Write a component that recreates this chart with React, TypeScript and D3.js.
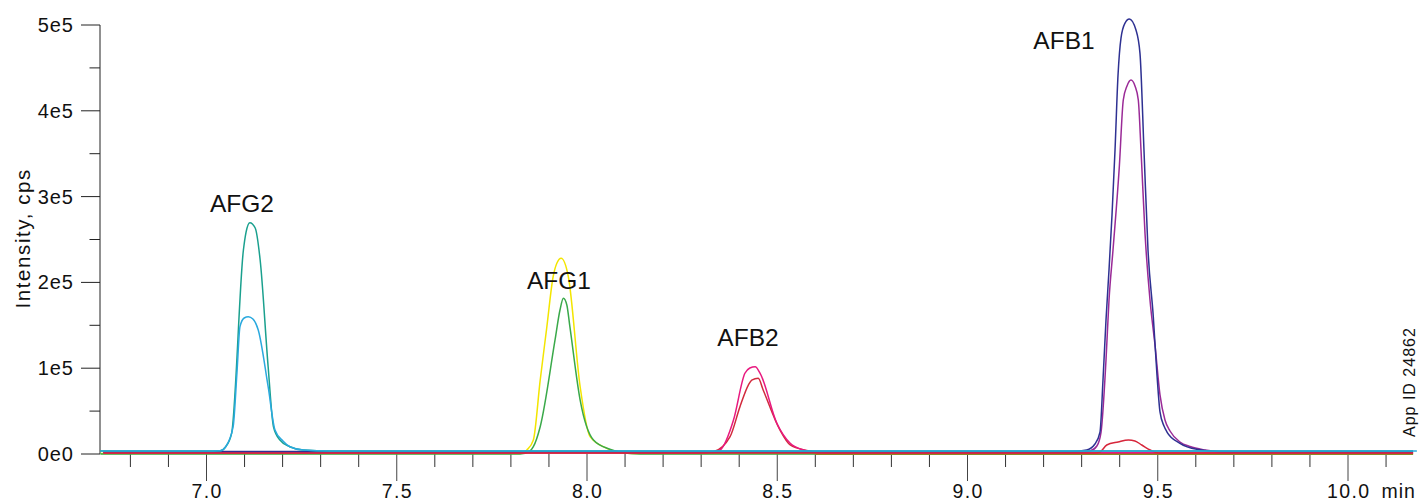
import React from "react";
import * as d3 from "d3";

// ---- Data (time in min, intensity in cps) ----
const afg2Teal: [number, number][] = [
  [6.721, 3500], [7.0, 3500], [7.036, 3800], [7.05, 8200], [7.066, 24100], [7.097, 237800],
  [7.104, 258700], [7.114, 269600], [7.128, 263400], [7.141, 226100], [7.162, 101700],
  [7.176, 31800], [7.193, 16300], [7.219, 8500], [7.254, 4700], [7.325, 3500], [10.171, 3500],
];
const afg2Blue: [number, number][] = [
  [6.721, 3500], [7.0, 3500], [7.036, 3800], [7.05, 8200], [7.07, 31800], [7.08, 94400],
  [7.088, 148400], [7.099, 158500], [7.11, 160000], [7.122, 157300], [7.136, 144500],
  [7.162, 78400], [7.18, 28000], [7.201, 15200], [7.219, 8500], [7.254, 4700], [7.325, 3500],
  [10.181, 3500],
];
const afg1Yellow: [number, number][] = [
  [6.722, 600], [7.824, 600], [7.842, 4700], [7.859, 16300], [7.877, 86200], [7.894, 146500],
  [7.911, 206600], [7.921, 222600], [7.932, 228100], [7.951, 206600], [7.982, 78400],
  [8.008, 20200], [8.052, 6600], [8.1, 1200], [8.139, 600], [10.171, 600],
];
const afg1Green: [number, number][] = [
  [6.721, 0], [7.824, 0], [7.85, 3500], [7.859, 8500], [7.877, 31800], [7.916, 132900],
  [7.929, 167800], [7.938, 181500], [7.947, 173700], [7.955, 148400], [7.982, 62900],
  [8.017, 16300], [8.06, 5500], [8.113, 600], [8.166, 0], [10.171, 0],
];
const afb2Crimson: [number, number][] = [
  [6.729, 1200], [8.297, 1200], [8.332, 2700], [8.376, 20200], [8.402, 55100], [8.424, 80400],
  [8.433, 86200], [8.45, 88200], [8.463, 74600], [8.507, 28000], [8.534, 10500],
  [8.577, 4100], [8.626, 1200], [10.171, 1200],
];
const afb2Magenta: [number, number][] = [
  [6.729, 1700], [8.329, 1700], [8.35, 4700], [8.385, 39600], [8.415, 94100], [8.428, 100200],
  [8.442, 101700], [8.455, 94100], [8.499, 35800], [8.534, 12500], [8.569, 4700],
  [8.612, 1700], [10.171, 1700],
];
const afb1Purple: [number, number][] = [
  [6.729, 2000], [9.296, 2000], [9.322, 3500], [9.34, 9300], [9.351, 25600], [9.364, 109600],
  [9.3719, 179500], [9.3824, 237800], [9.399, 334800], [9.4094, 412600], [9.4192, 428900],
  [9.4297, 435900], [9.4402, 428900], [9.4489, 412600], [9.456, 354300], [9.4665, 257200],
  [9.4796, 179500], [9.4928, 127000], [9.5059, 68800], [9.519, 39600], [9.5322, 26800],
  [9.5584, 14000], [9.5847, 8700], [9.6242, 4700], [9.6899, 2000], [10.171, 2000],
];
const afb1Navy: [number, number][] = [
  [6.729, 2900], [9.269, 2900], [9.313, 4700], [9.335, 11700], [9.3482, 25600], [9.3561, 86200],
  [9.364, 156200], [9.3719, 214500], [9.3798, 278600], [9.3877, 354300], [9.3956, 441700],
  [9.4034, 484800], [9.414, 502300], [9.4252, 507000], [9.4428, 494200], [9.4533, 467000],
  [9.4638, 354300], [9.4744, 237800], [9.4883, 160000], [9.498, 92100], [9.5059, 49000],
  [9.5164, 32600], [9.5243, 25600], [9.5584, 12500], [9.6024, 5500], [9.6636, 2900], [10.171, 2900],
];
const afb1Red: [number, number][] = [
  [6.729, 1200], [9.335, 1200], [9.348, 2300], [9.366, 10500], [9.396, 14000], [9.423, 16300],
  [9.44, 15200], [9.458, 10500], [9.48, 4700], [9.502, 1200], [10.171, 1200],
];
const oliveTrace: [number, number][] = [
  [8.6, -300], [10.171, -300],
];

const traceColors = ["#f3e500", "#3aa94a", "#8c8a25", "#d22a3d", "#e8197f", "#9a2a97", "#2e3192", "#d7263b", "#1aa08e", "#2aa9de"];
const traces = [afg1Yellow, afg1Green, oliveTrace, afb2Crimson, afb2Magenta, afb1Purple, afb1Navy, afb1Red, afg2Teal, afg2Blue];

const peakNames = ["AFG2", "AFG1", "AFB2", "AFB1"];
const peakLabelTime = [7.0933, 7.9264, 8.4231, 9.2536];
const peakLabelIntensity = [282000, 192300, 125900, 471700];

const xMajorTicks = [7.0, 7.5, 8.0, 8.5, 9.0, 9.5, 10.0];
const xMajorLabels = ["7.0", "7.5", "8.0", "8.5", "9.0", "9.5", "10.0"];
const yMajorTicks = [0, 1e5, 2e5, 3e5, 4e5, 5e5];
const yMajorLabels = ["0e0", "1e5", "2e5", "3e5", "4e5", "5e5"];
const yMinorTicks = [5e4, 1.5e5, 2.5e5, 3.5e5, 4.5e5];

const FONT = "'Liberation Sans', Arial, Helvetica, sans-serif";

export default function App() {
  const x = d3.scaleLinear().domain([7, 10]).range([206.5, 1348]);
  const y = d3.scaleLinear().domain([0, 5e5]).range([454, 25]);
  const line = d3
    .line<[number, number]>()
    .x((d) => x(d[0]))
    .y((d) => y(d[1]))
    .curve(d3.curveMonotoneX);
  const xMinorTicks = d3.range(68, 102).map((i) => i / 10).filter((t) => !xMajorTicks.some((m) => Math.abs(m - t) < 1e-6));

  return (
    <svg width={1420} height={500} style={{ position: "absolute", left: 0, top: 0, background: "#fff" }} fontFamily={FONT}>
      <rect x={0} y={0} width={1420} height={500} fill="#fff" />
      {/* y axis */}
      <line x1={100} x2={100} y1={y(5e5)} y2={y(0)} stroke="#222" strokeWidth={1} />
      {yMajorTicks.map((v, i) => (
        <g key={"ym" + i}>
          <line x1={81} x2={100} y1={y(v)} y2={y(v)} stroke="#222" strokeWidth={1} />
          <text x={73 + 1} y={y(v) + 7} fontSize={20} letterSpacing={1} textAnchor="end" fill="#111">
            {yMajorLabels[i]}
          </text>
        </g>
      ))}
      {yMinorTicks.map((v, i) => (
        <line key={"yn" + i} x1={89.5} x2={100} y1={y(v)} y2={y(v)} stroke="#222" strokeWidth={1} />
      ))}
      <text transform="translate(30,238.3) rotate(-90)" fontSize={20.5} letterSpacing={1.6} textAnchor="middle" fill="#111">
        Intensity, cps
      </text>
      {/* x ticks */}
      {xMinorTicks.map((t, i) => (
        <line key={"xn" + i} x1={x(t)} x2={x(t)} y1={454} y2={467} stroke="#333" strokeWidth={1} />
      ))}
      {xMajorTicks.map((t, i) => (
        <g key={"xm" + i}>
          <line x1={x(t)} x2={x(t)} y1={454} y2={481} stroke="#444" strokeWidth={1} />
          <text x={x(t) + 0.7} y={497.5} fontSize={19.5} letterSpacing={1.4} textAnchor="middle" fill="#111">
            {xMajorLabels[i]}
          </text>
        </g>
      ))}
      <text x={1381.5} y={497.5} fontSize={19.5} letterSpacing={1} fill="#111">
        min
      </text>
      {/* traces */}
      {traces.map((tr, i) => (
        <path key={"tr" + i} d={line(tr) || ""} fill="none" stroke={traceColors[i]} strokeWidth={1.5} strokeLinejoin="round" />
      ))}
      {/* peak labels */}
      {peakNames.map((n, i) => (
        <text key={n} x={x(peakLabelTime[i])} y={y(peakLabelIntensity[i])} fontSize={24.5} textAnchor="middle" fill="#111">
          {n}
        </text>
      ))}
      <text transform="translate(1415,437) rotate(-90)" fontSize={16} letterSpacing={1} fill="#111">
        App ID 24862
      </text>
    </svg>
  );
}
